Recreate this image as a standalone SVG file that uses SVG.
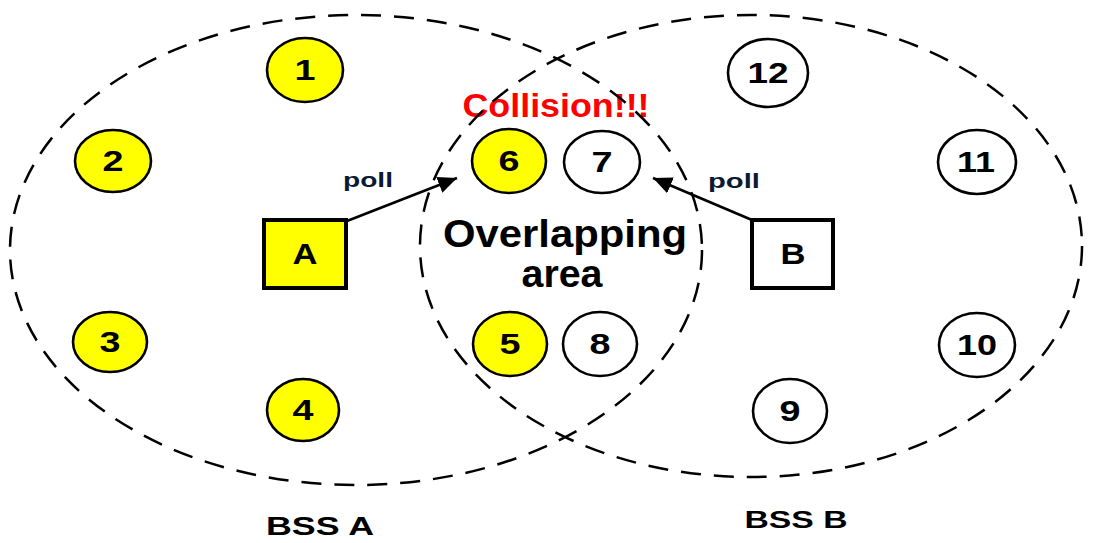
<svg xmlns="http://www.w3.org/2000/svg" width="1093" height="543" viewBox="0 0 1093 543">
  <defs>
    <style>
      .sta { stroke: #000; stroke-width: 2.6; }
      .y { fill: #ffff00; }
      .w { fill: #ffffff; }
      .ap { stroke: #000; stroke-width: 4; }
      .num { font-family: "Liberation Sans", Arial, sans-serif; font-weight: bold; font-size: 29px; fill: #000; text-anchor: middle; }
      .lbl { font-family: "Liberation Sans", Arial, sans-serif; font-weight: bold; fill: #000; text-anchor: middle; }
      .poll { font-family: "Liberation Sans", Arial, sans-serif; font-weight: bold; font-size: 21px; fill: #0a1a33; text-anchor: middle; }
      .bss { fill: none; stroke: #000; stroke-width: 2.5; stroke-dasharray: 20 13; }
      .conn { stroke: #000; stroke-width: 2.6; fill: none; }
    </style>
    <marker id="arrow" markerUnits="userSpaceOnUse" markerWidth="20" markerHeight="18" refX="19" refY="8.5" orient="auto">
      <path d="M0,0 L19,8.5 L0,17 z" fill="#000"/>
    </marker>
  </defs>
  <rect width="1093" height="543" fill="#fff"/>

  <g id="node-1"><ellipse class="sta y" cx="305" cy="70" rx="38" ry="32"/><text class="num" x="305" y="80" textLength="21" lengthAdjust="spacingAndGlyphs">1</text></g>
  <g id="node-2"><ellipse class="sta y" cx="113" cy="161" rx="38" ry="31"/><text class="num" x="113" y="171" textLength="21" lengthAdjust="spacingAndGlyphs">2</text></g>
  <g id="node-3"><ellipse class="sta y" cx="110" cy="342" rx="37" ry="30"/><text class="num" x="110" y="352" textLength="21" lengthAdjust="spacingAndGlyphs">3</text></g>
  <g id="node-4"><ellipse class="sta y" cx="303" cy="410" rx="36" ry="31"/><text class="num" x="303" y="420" textLength="21" lengthAdjust="spacingAndGlyphs">4</text></g>
  <g id="node-5"><ellipse class="sta y" cx="510" cy="344" rx="37" ry="32"/><text class="num" x="510" y="354" textLength="21" lengthAdjust="spacingAndGlyphs">5</text></g>
  <g id="node-6"><ellipse class="sta y" cx="509" cy="161" rx="37" ry="32"/><text class="num" x="509" y="171" textLength="21" lengthAdjust="spacingAndGlyphs">6</text></g>
  <g id="node-7"><ellipse class="sta w" cx="602" cy="162" rx="38" ry="31"/><text class="num" x="602" y="172" textLength="21" lengthAdjust="spacingAndGlyphs">7</text></g>
  <g id="node-8"><ellipse class="sta w" cx="600" cy="344" rx="37" ry="32"/><text class="num" x="600" y="354" textLength="21" lengthAdjust="spacingAndGlyphs">8</text></g>
  <g id="node-9"><ellipse class="sta w" cx="790" cy="411" rx="37" ry="32"/><text class="num" x="790" y="421" textLength="21" lengthAdjust="spacingAndGlyphs">9</text></g>
  <g id="node-10"><ellipse class="sta w" cx="977" cy="345" rx="38" ry="32"/><text class="num" x="977" y="355" textLength="40" lengthAdjust="spacingAndGlyphs">10</text></g>
  <g id="node-11"><ellipse class="sta w" cx="977" cy="162" rx="39" ry="32"/><text class="num" x="976" y="172" textLength="38" lengthAdjust="spacingAndGlyphs">11</text></g>
  <g id="node-12"><ellipse class="sta w" cx="768" cy="73" rx="40" ry="34"/><text class="num" x="768" y="83" textLength="41" lengthAdjust="spacingAndGlyphs">12</text></g>

  <g id="ap-a"><rect class="ap y" x="264" y="220" width="82" height="68"/><text class="num" x="305" y="264" textLength="25" lengthAdjust="spacingAndGlyphs">A</text></g>
  <g id="ap-b"><rect class="ap w" x="752" y="220" width="81" height="68"/><text class="num" x="793" y="264" textLength="25" lengthAdjust="spacingAndGlyphs">B</text></g>

  <g id="labels">
    <text class="lbl" x="556" y="117" font-size="34" style="fill:#ff0000" textLength="187" lengthAdjust="spacingAndGlyphs">Collision!!!</text>
    <text class="lbl" x="565" y="247" font-size="38" textLength="244" lengthAdjust="spacingAndGlyphs">Overlapping</text>
    <text class="lbl" x="562" y="287" font-size="38" textLength="81" lengthAdjust="spacingAndGlyphs">area</text>
    <text class="lbl" x="320" y="535" font-size="25" textLength="108" lengthAdjust="spacingAndGlyphs">BSS A</text>
    <text class="lbl" x="796" y="528" font-size="24" textLength="103" lengthAdjust="spacingAndGlyphs">BSS B</text>
  </g>

  <g id="connectors">
    <line class="conn" x1="347" y1="221" x2="457" y2="178" marker-end="url(#arrow)"/>
    <text class="poll" x="368" y="187" textLength="50" lengthAdjust="spacingAndGlyphs">poll</text>
    <line class="conn" x1="752" y1="220" x2="653" y2="178" marker-end="url(#arrow)"/>
    <text class="poll" x="734" y="188" textLength="52" lengthAdjust="spacingAndGlyphs">poll</text>
  </g>

  <g id="bss-a"><ellipse class="bss" cx="356" cy="250" rx="346" ry="235"/></g>
  <g id="bss-b"><ellipse class="bss" cx="751" cy="246" rx="331" ry="231"/></g>
</svg>
